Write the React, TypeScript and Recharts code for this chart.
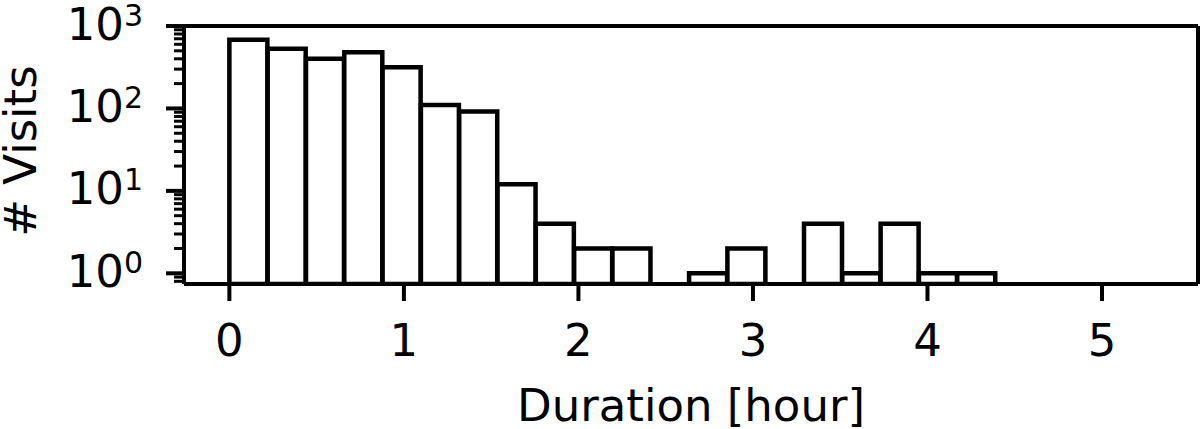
import { BarChart, Bar, XAxis, YAxis, ReferenceLine } from 'recharts'

// 24 equal-width bins (hours); counts
const binStarts = [
  0, 0.2195, 0.439, 0.6585, 0.878, 1.0975, 1.317, 1.5365, 1.756, 1.9755, 2.195, 2.4145,
  2.634, 2.8535, 3.073, 3.2925, 3.512, 3.7315, 3.951, 4.1705, 4.39, 4.6095, 4.829, 5.0485,
]
const binWidth = 0.2195
const visitCounts = [680, 530, 400, 480, 315, 110, 92, 12, 4, 2, 2, 0, 1, 2, 0, 4, 1, 4, 1, 1, 0, 0, 0, 0]

const xTicks = [0, 1, 2, 3, 4, 5]
const xDomain = [-0.26, 5.55]
const yMajorTicks = [1, 10, 100, 1000]
const yMinorTicks = [
  0.8, 0.9, 2, 3, 4, 5, 6, 7, 8, 9, 20, 30, 40, 50, 60, 70, 80, 90,
  200, 300, 400, 500, 600, 700, 800, 900,
]
const yDomain = [0.742, 1000]

const FONT = '"DejaVu Sans", sans-serif'

// matplotlib style log tick: long major tick with 10^n label, short minor tick
function LogTick({ x, y, payload }: any) {
  const v = payload.value
  const isMajor = yMajorTicks.includes(v)
  const exp = Math.round(Math.log10(v))
  return (
    <g>
      <line
        x1={x - (isMajor ? 18 : 10)}
        x2={x}
        y1={y}
        y2={y}
        stroke="#000"
        strokeWidth={isMajor ? 4 : 3}
      />
      {isMajor && (
        <text x={x - 41} y={y + 13.5} textAnchor="end" fontSize={45} fontFamily={FONT} fill="#000">
          10
          <tspan dy={-14} fontSize={30}>
            {exp}
          </tspan>
        </text>
      )}
    </g>
  )
}

function YTitle({ viewBox }: any) {
  const top = viewBox?.y ?? 26
  const h = viewBox?.height ?? 258
  const cx = 36
  const cy = top + h / 2 - 4
  return (
    <text
      x={cx}
      y={cy}
      transform={`rotate(-90, ${cx}, ${cy})`}
      textAnchor="middle"
      fontSize={45}
      fontFamily={FONT}
      fill="#000"
    >
      # Visits
    </text>
  )
}

export default function App() {
  // only non-empty bins get a bar (log scale cannot show zero)
  const rows = binStarts
    .map((start, i) => ({ x: start + binWidth / 2, count: visitCounts[i] }))
    .filter(r => r.count > 0)

  return (
    <div style={{ position: 'absolute', left: 0, top: 0, width: 1200, height: 429, background: '#fff' }}>
      <BarChart
        width={1200}
        height={429}
        data={rows}
        margin={{ top: 26, right: 2, bottom: 0, left: 0 }}
        barCategoryGap={0}
        barGap={0}
        style={{ fontFamily: FONT }}
      >
        <XAxis
          dataKey="x"
          type="number"
          domain={xDomain}
          allowDataOverflow
          ticks={xTicks}
          interval={0}
          height={145}
          tickSize={17}
          tickMargin={23}
          tick={{ fontSize: 45, fill: '#000', fontFamily: FONT }}
          tickLine={{ stroke: '#000', strokeWidth: 4 }}
          axisLine={{ stroke: '#000', strokeWidth: 4 }}
          label={{ value: 'Duration [hour]', position: 'insideBottom', offset: 8, fontSize: 45, fill: '#000', fontFamily: FONT }}
        />
        <YAxis
          type="number"
          scale="log"
          domain={yDomain}
          allowDataOverflow
          ticks={[...yMinorTicks, ...yMajorTicks].sort((a, b) => a - b)}
          interval={0}
          width={184}
          tickSize={0}
          tickMargin={0}
          tickLine={false}
          tick={<LogTick />}
          axisLine={{ stroke: '#000', strokeWidth: 4 }}
          label={<YTitle />}
        />
        <Bar dataKey="count" fill="#fff" stroke="#000" strokeWidth={4.5} isAnimationActive={false} />
        {/* top and right spines of the axes frame */}
        <ReferenceLine y={yDomain[1]} stroke="#000" strokeWidth={4} ifOverflow="extendDomain" />
        <ReferenceLine x={xDomain[1]} stroke="#000" strokeWidth={4} ifOverflow="extendDomain" />
      </BarChart>
    </div>
  )
}
